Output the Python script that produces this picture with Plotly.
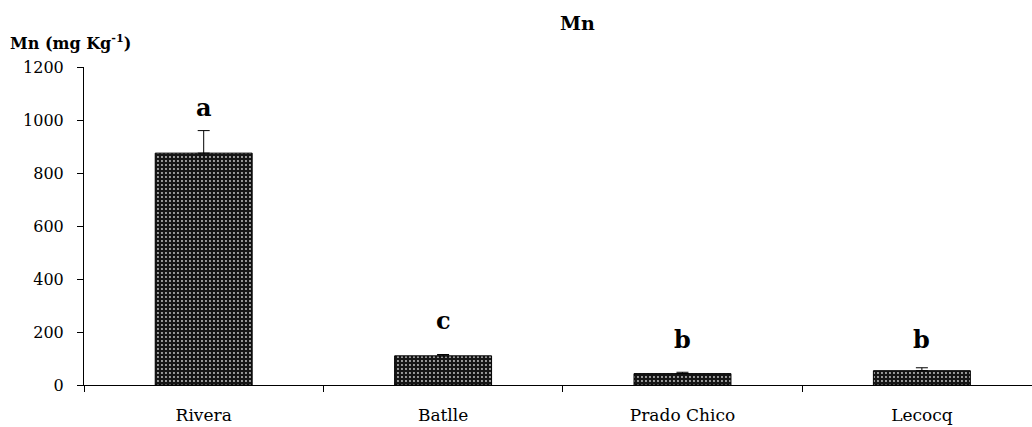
import plotly.graph_objects as go

categories = ["Rivera", "Batlle", "Prado Chico", "Lecocq"]
mn_values = [875, 110, 43, 54]
mn_errors = [85, 5, 5, 11]
sig_letters = ["a", "c", "b", "b"]
letter_y = [1049, 245, 170, 170]
y_ticks = [0, 200, 400, 600, 800, 1000, 1200]

FONT = "DejaVu Serif"
W, H = 1032, 427
L, R, T, B = 84, 0, 67, 42
pw, ph = W - L - R, H - T - B


def px(x):
    return (x - L) / pw


def py(y):
    return (H - B - y) / ph


fig = go.Figure()
fig.add_trace(go.Bar(
    x=categories,
    y=mn_values,
    width=0.405,
    marker=dict(
        color="#151515",
        line=dict(color="black", width=1),
        pattern=dict(shape=".", size=4, solidity=0.18,
                     fgcolor="#c8c8c8", bgcolor="#151515", fillmode="replace"),
    ),
    error_y=dict(type="data", array=mn_errors, arrayminus=[0] * len(mn_errors),
                 symmetric=False, visible=True,
                 color="black", thickness=1, width=6),
    showlegend=False,
))

anns = []
for c, t, yy in zip(categories, sig_letters, letter_y):
    anns.append(dict(x=c, y=yy, xref="x", yref="y", text=f"<b>{t}</b>",
                     showarrow=False, xanchor="center", yanchor="middle",
                     font=dict(family=FONT, size=24, color="black")))
anns.append(dict(x=px(577), y=py(23), xref="paper", yref="paper",
                 xanchor="center", yanchor="middle", text="<b>Mn</b>",
                 showarrow=False, font=dict(family=FONT, size=19, color="black")))
anns.append(dict(x=px(8), y=py(42), xref="paper", yref="paper",
                 xanchor="left", yanchor="middle",
                 text="<b>Mn (mg Kg<sup>-1</sup>)</b>", showarrow=False,
                 font=dict(family=FONT, size=16, color="black")))

fig.update_layout(
    width=W, height=H,
    margin=dict(l=L, r=R, t=T, b=B),
    paper_bgcolor="white", plot_bgcolor="white",
    font=dict(family=FONT, size=16, color="black"),
    annotations=anns,
)

fig.update_xaxes(
    type="category", range=[-0.5, 3.46],
    showline=True, linecolor="black", linewidth=1,
    ticks="outside", tickson="boundaries", ticklen=6, tickcolor="black",
    showgrid=False, zeroline=False, ticklabelstandoff=15,
    tickfont=dict(family=FONT, size=17, color="black"),
)
fig.update_yaxes(
    range=[0, 1200], tickvals=y_ticks,
    showline=True, linecolor="black", linewidth=1,
    ticks="outside", ticklen=6, tickcolor="black",
    showgrid=False, zeroline=False, ticklabelstandoff=10,
    tickfont=dict(family=FONT, size=16, color="black"),
)

fig.write_html("out.html", config={"displayModeBar": False},
               post_script="document.body.style.margin='0';")
